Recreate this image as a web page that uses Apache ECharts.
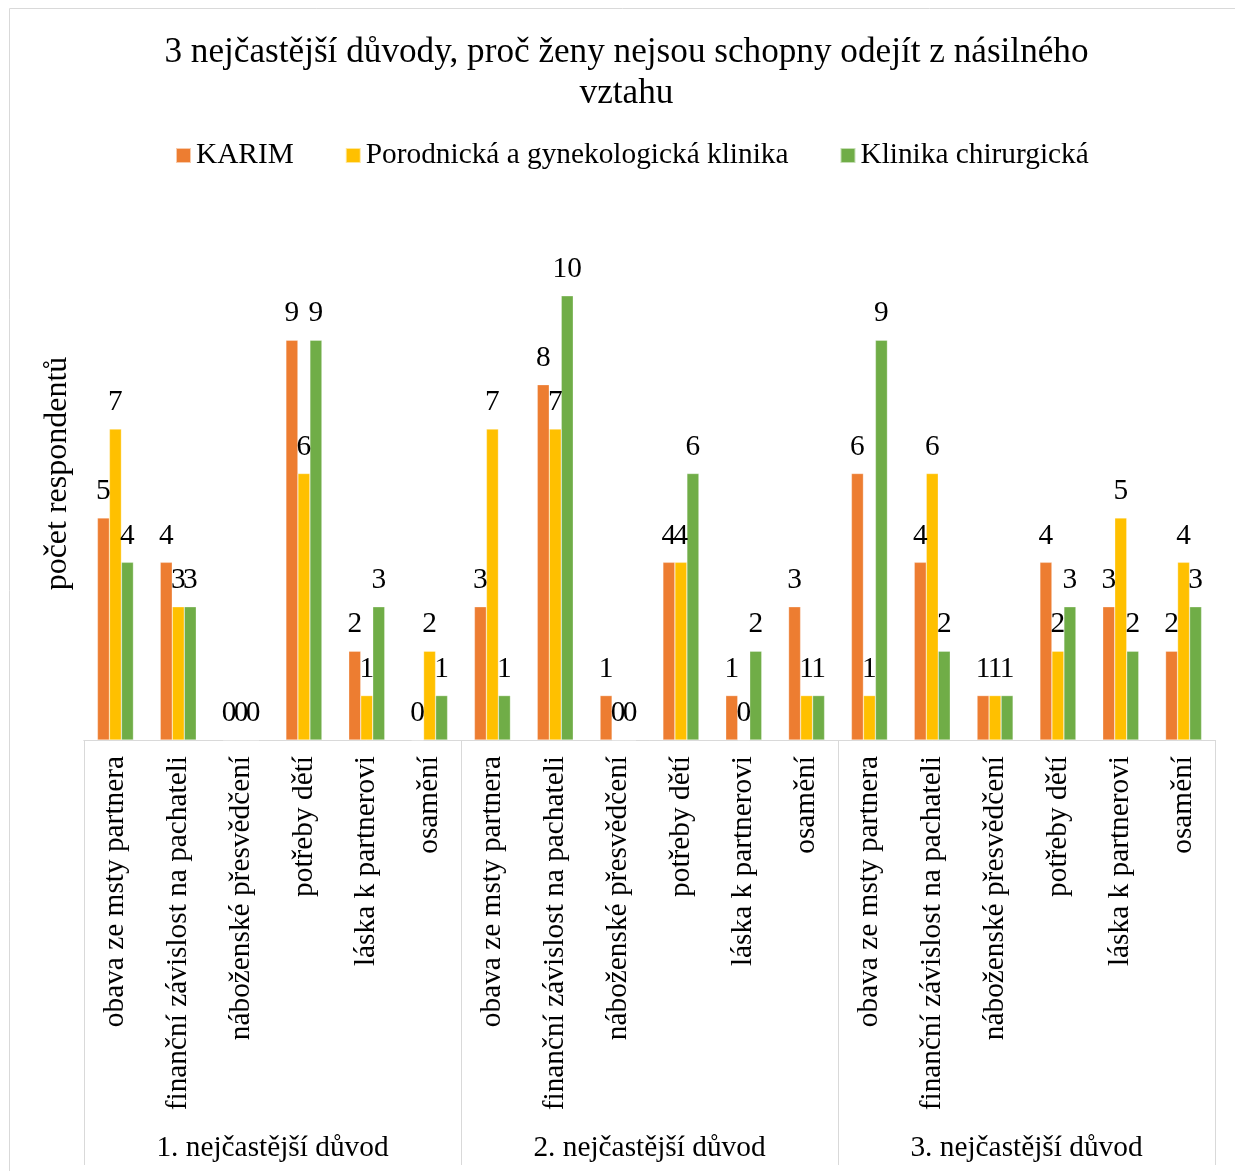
<!DOCTYPE html>
<html>
<head>
<meta charset="utf-8">
<script src="https://cdn.jsdelivr.net/npm/echarts@6/dist/echarts.min.js"></script>
<style>
  html, body { margin: 0; padding: 0; background: #fff; }
  #chart { width: 1235px; height: 1171px; }
</style>
</head>
<body>
<div id="chart"></div>
<script>
// Reasons within each rank group
const reasons = [
  'obava ze msty partnera',
  'finanční závislost na pachateli',
  'náboženské přesvědčení',
  'potřeby dětí',
  'láska k partnerovi',
  'osamění'
];
const groups = ['1. nejčastější důvod', '2. nejčastější důvod', '3. nejčastější důvod'];
const seriesNames = ['KARIM', 'Porodnická a gynekologická klinika', 'Klinika chirurgická'];

// Respondent counts, six reasons per rank group
const karim = [5, 4, 0, 9, 2, 0,   3, 8, 1, 4, 1, 3,   6, 4, 1, 4, 3, 2];
const porodnicka = [7, 3, 0, 6, 1, 2,   7, 7, 0, 4, 0, 1,   1, 6, 1, 2, 5, 4];
const chirurgicka = [4, 3, 0, 9, 3, 1,   1, 10, 0, 6, 2, 1,   9, 2, 1, 3, 2, 3];

const categories = [];
groups.forEach(() => reasons.forEach(r => categories.push(r)));

const FONT = '"Liberation Serif", "Times New Roman", serif';
const TXT = 29.33;
const colors = ['#ED7D31', '#FFC000', '#70AD47'];

const chart = echarts.init(document.getElementById('chart'));

function barSeries(name, data, color) {
  return {
    name: name,
    type: 'bar',
    xAxisIndex: 0,
    data: data,
    barWidth: 12,
    barGap: '0%',
    itemStyle: { color: color, borderColor: 'rgba(255,255,255,0.6)', borderWidth: 0.5 },
    label: {
      show: true,
      position: 'top',
      distance: 12,
      color: '#000',
      fontFamily: FONT,
      fontSize: TXT
    }
  };
}

chart.setOption({
  animation: false,
  textStyle: { fontFamily: FONT },
  title: {
    text: '3 nejčastější důvody, proč ženy nejsou schopny odejít z násilného\nvztahu',
    left: 621.5,
    textAlign: 'center',
    top: 27,
    textStyle: { fontFamily: FONT, fontSize: 35.2, fontWeight: 'normal', color: '#000', lineHeight: 41 }
  },
  legend: {
    top: 136,
    left: 170,
    icon: 'rect',
    itemWidth: 15,
    itemHeight: 15,
    itemGap: 51,
    textStyle: { fontFamily: FONT, fontSize: TXT, color: '#000' },
    data: seriesNames
  },
  graphic: [{
    type: 'rect',
    shape: { x: 9.5, y: 8.5, width: 1240, height: 1200 },
    style: { fill: 'none', stroke: '#d9d9d9', lineWidth: 1 },
    silent: true
  }],
  grid: { left: 84, right: 20, top: 207, bottom: 431, containLabel: false },
  xAxis: [{
    type: 'category',
    data: categories,
    position: 'bottom',
    axisLine: { lineStyle: { color: '#d9d9d9', width: 1 } },
    axisTick: { show: false },
    axisLabel: {
      interval: 0,
      rotate: 90,
      margin: 16,
      color: '#000',
      fontFamily: FONT,
      fontSize: TXT
    }
  }, {
    type: 'category',
    data: groups,
    position: 'bottom',
    axisLine: { show: true, lineStyle: { color: '#d9d9d9', width: 1 } },
    axisTick: { show: true, interval: 0, length: 425, lineStyle: { color: '#d9d9d9', width: 1 } },
    axisLabel: {
      interval: 0,
      margin: 394,
      color: '#000',
      fontFamily: FONT,
      fontSize: TXT
    }
  }],
  yAxis: {
    type: 'value',
    min: 0,
    max: 12,
    axisLine: { show: false },
    axisTick: { show: false },
    axisLabel: { show: false },
    splitLine: { show: false },
    name: 'počet respondentů',
    nameLocation: 'middle',
    nameGap: 10,
    nameTextStyle: { fontFamily: FONT, fontSize: 32, color: '#000' }
  },
  series: [
    barSeries(seriesNames[0], karim, colors[0]),
    barSeries(seriesNames[1], porodnicka, colors[1]),
    barSeries(seriesNames[2], chirurgicka, colors[2])
  ]
});
</script>
</body>
</html>
